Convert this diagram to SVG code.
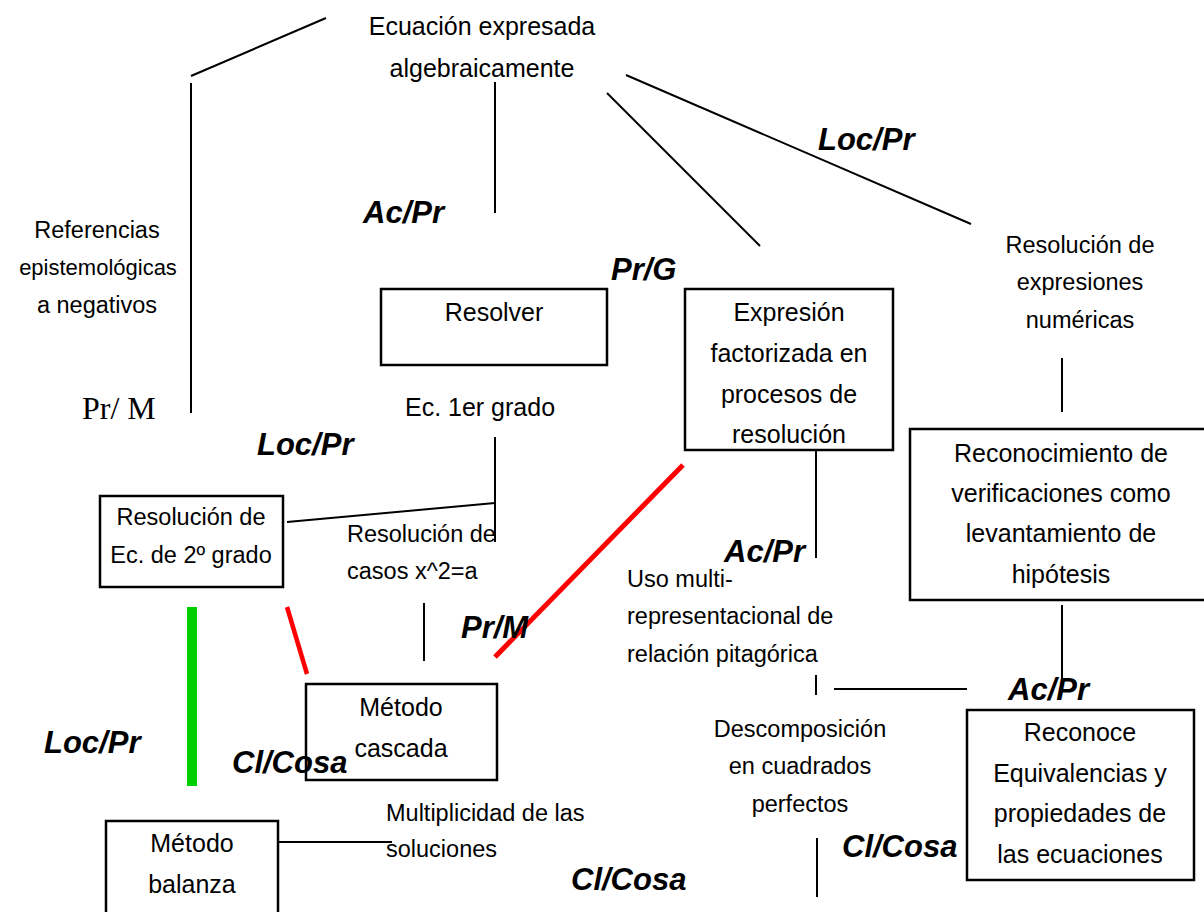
<svg xmlns="http://www.w3.org/2000/svg" width="1204" height="912" viewBox="0 0 1204 912">
<style>
text{font-family:"Liberation Sans",Arial,sans-serif;fill:#000}
.b{font-size:25px}
.s{font-size:23.5px}
.m{text-anchor:middle}
.lab{font-size:31px;font-weight:bold;font-style:italic}
.box{fill:#fff;stroke:#000;stroke-width:2.5}
.ln{stroke:#000;stroke-width:2;fill:none}
.red{stroke:#ff0000;fill:none}
</style>
<rect width="1204" height="912" fill="#fff"/>
<g id="connectors">
<line class="ln" x1="326" y1="18" x2="191" y2="76"/>
<line class="ln" x1="191" y1="83" x2="191" y2="413"/>
<line class="ln" x1="495" y1="82" x2="495" y2="213"/>
<line class="ln" x1="607" y1="93" x2="760" y2="246"/>
<line class="ln" x1="626" y1="75" x2="971" y2="224"/>
<line class="ln" x1="1062" y1="358" x2="1062" y2="412"/>
<line class="ln" x1="495" y1="437" x2="495" y2="542"/>
<line class="ln" x1="287" y1="522" x2="495" y2="503"/>
<line class="ln" x1="424" y1="603" x2="424" y2="661"/>
<line class="ln" x1="816" y1="437" x2="816" y2="558"/>
<line class="ln" x1="816" y1="675" x2="816" y2="695"/>
<line class="ln" x1="834" y1="689" x2="967" y2="689"/>
<line class="ln" x1="1062" y1="605" x2="1062" y2="688"/>
<line class="ln" x1="817" y1="838" x2="817" y2="897"/>
<line class="ln" x1="278" y1="842" x2="392" y2="842"/>
<line class="red" stroke-width="5" x1="683" y1="465" x2="495" y2="657"/>
<line class="red" stroke-width="4.5" x1="287" y1="607" x2="307" y2="674"/>
<line stroke="#00d000" stroke-width="10" x1="192" y1="607" x2="192" y2="786"/>
</g>
<g id="n-ecuacion">
<text class="b m" x="482" y="35">Ecuación expresada</text>
<text class="b m" x="482" y="77">algebraicamente</text>
</g>
<g id="n-referencias">
<text class="s m" x="97" y="238">Referencias</text>
<text class="s m" x="98" y="275" style="font-size:22px">epistemológicas</text>
<text class="s m" x="97" y="313">a negativos</text>
</g>
<g id="n-resolver">
<rect class="box" x="381" y="289" width="226" height="76"/>
<text class="b m" x="494" y="321">Resolver</text>
</g>
<g id="n-ec1">
<text class="b m" x="480" y="416">Ec. 1er grado</text>
</g>
<g id="n-expresion">
<rect class="box" x="685" y="289" width="208" height="161"/>
<text class="b m" x="789" y="321">Expresión</text>
<text class="b m" x="789" y="362">factorizada en</text>
<text class="b m" x="789" y="403">procesos de</text>
<text class="b m" x="789" y="443">resolución</text>
</g>
<g id="n-numericas">
<text class="s m" x="1080" y="253">Resolución de</text>
<text class="s m" x="1080" y="290">expresiones</text>
<text class="s m" x="1080" y="328">numéricas</text>
</g>
<g id="n-reconocimiento">
<rect class="box" x="910" y="429" width="304" height="171"/>
<text class="b m" x="1061" y="462">Reconocimiento de</text>
<text class="b m" x="1061" y="502">verificaciones como</text>
<text class="b m" x="1061" y="542">levantamiento de</text>
<text class="b m" x="1061" y="583">hipótesis</text>
</g>
<g id="n-ec2">
<rect class="box" x="100" y="496" width="183" height="91"/>
<text class="s m" x="191" y="525">Resolución de</text>
<text class="s m" x="191" y="563">Ec. de 2º grado</text>
</g>
<g id="n-casos">
<text class="s" x="347" y="542">Resolución de</text>
<text class="s" x="347" y="579">casos x^2=a</text>
</g>
<g id="n-pitagorica">
<text class="s" x="627" y="587">Uso multi-</text>
<text class="s" x="627" y="624">representacional de</text>
<text class="s" x="627" y="662">relación pitagórica</text>
</g>
<g id="n-cascada">
<rect class="box" x="306" y="684" width="191" height="96"/>
<text class="b m" x="401" y="716">Método</text>
<text class="b m" x="401" y="757">cascada</text>
</g>
<g id="n-descomposicion">
<text class="s m" x="800" y="737">Descomposición</text>
<text class="s m" x="800" y="774">en cuadrados</text>
<text class="s m" x="800" y="812">perfectos</text>
</g>
<g id="n-reconoce">
<rect class="box" x="967" y="710" width="227" height="170"/>
<text class="b m" x="1080" y="741">Reconoce</text>
<text class="b m" x="1080" y="782">Equivalencias y</text>
<text class="b m" x="1080" y="822">propiedades de</text>
<text class="b m" x="1080" y="863">las ecuaciones</text>
</g>
<g id="n-balanza">
<rect class="box" x="106" y="821" width="172" height="110"/>
<text class="b m" x="192" y="852">Método</text>
<text class="b m" x="192" y="893">balanza</text>
</g>
<g id="n-multiplicidad">
<text class="s" x="386" y="821">Multiplicidad de las</text>
<text class="s" x="386" y="857">soluciones</text>
</g>
<g id="labels">
<text class="lab" x="818" y="150">Loc/Pr</text>
<text class="lab" x="363" y="223">Ac/Pr</text>
<text class="lab" x="611" y="280">Pr/G</text>
<text x="82" y="419" style="font-family:'Liberation Serif','Times New Roman',serif;font-size:32px">Pr/ M</text>
<text class="lab" x="257" y="455">Loc/Pr</text>
<text class="lab" x="724" y="562">Ac/Pr</text>
<text class="lab" x="461" y="638">Pr/M</text>
<text class="lab" x="1008" y="700">Ac/Pr</text>
<text class="lab" x="44" y="753">Loc/Pr</text>
<text class="lab" x="232" y="773">Cl/Cosa</text>
<text class="lab" x="842" y="857">Cl/Cosa</text>
<text class="lab" x="571" y="890">Cl/Cosa</text>
</g>
</svg>
